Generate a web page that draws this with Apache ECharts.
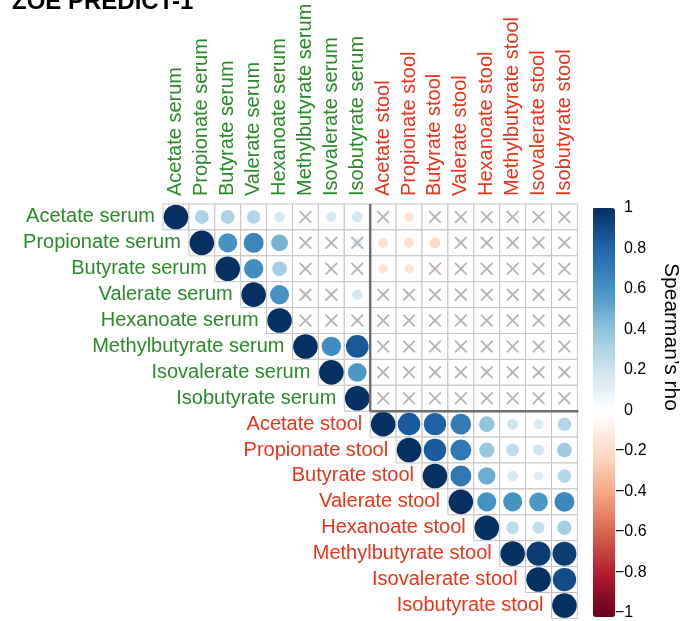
<!DOCTYPE html>
<html>
<head>
<meta charset="utf-8">
<script src="https://cdn.jsdelivr.net/npm/echarts@6.0.0/dist/echarts.min.js"></script>
<style>
  html, body { margin: 0; padding: 0; background: #fff; }
  #chart { width: 689px; height: 621px; }
</style>
</head>
<body>
<div id="chart"></div>
<script>
// variables, serum first then stool
var labels = [
    "Acetate serum", "Propionate serum", "Butyrate serum", "Valerate serum",
    "Hexanoate serum", "Methylbutyrate serum", "Isovalerate serum", "Isobutyrate serum",
    "Acetate stool", "Propionate stool", "Butyrate stool", "Valerate stool",
    "Hexanoate stool", "Methylbutyrate stool", "Isovalerate stool", "Isobutyrate stool"
];

// upper triangle of Spearman's rho, each row starts at the diagonal
var rho = [
    [1, 0.32, 0.32, 0.3, 0.18, 0.03, 0.17, 0.19, 0.02, -0.15, 0.02, 0.01, 0.01, 0.01, 0.01, 0.01],
    [1, 0.6, 0.66, 0.47, 0.03, 0.03, 0.14, -0.16, -0.17, -0.2, -0.1, 0.01, 0.01, 0.01, 0.01],
    [1, 0.62, 0.35, 0.02, 0.03, 0.03, -0.15, -0.15, -0.1, 0.01, 0.01, 0.01, 0.01, 0.01],
    [1, 0.6, 0.1, 0.02, 0.18, 0.02, -0.06, 0.01, 0.01, 0.01, 0.01, 0.01, 0.01],
    [1, 0.02, 0.02, 0.08, 0.01, 0.02, 0.02, -0.08, 0.01, 0.01, 0.01, 0.01],
    [1, 0.62, 0.85, 0.01, 0.01, 0.01, 0.01, 0.01, 0.01, 0.01, 0.01],
    [1, 0.58, 0.01, 0.01, 0.01, 0.01, 0.01, 0.01, 0.01, 0.01],
    [1, 0.01, 0.01, 0.01, 0.01, 0.01, 0.01, 0.01, 0.01],
    [1, 0.84, 0.82, 0.7, 0.4, 0.2, 0.16, 0.3],
    [1, 0.84, 0.72, 0.38, 0.26, 0.2, 0.36],
    [1, 0.72, 0.5, 0.18, 0.14, 0.3],
    [1, 0.6, 0.6, 0.58, 0.65],
    [1, 0.26, 0.24, 0.34],
    [1, 0.96, 0.95],
    [1, 0.9],
    [1]
];

// 1 = not significant (drawn with a cross)
var insig = [
    [0, 0, 0, 0, 0, 1, 0, 0, 1, 0, 1, 1, 1, 1, 1, 1],
    [0, 0, 0, 0, 1, 1, 1, 0, 0, 0, 1, 1, 1, 1, 1],
    [0, 0, 0, 1, 1, 1, 0, 0, 1, 1, 1, 1, 1, 1],
    [0, 0, 1, 1, 0, 1, 1, 1, 1, 1, 1, 1, 1],
    [0, 1, 1, 1, 1, 1, 1, 1, 1, 1, 1, 1],
    [0, 0, 0, 1, 1, 1, 1, 1, 1, 1, 1],
    [0, 0, 1, 1, 1, 1, 1, 1, 1, 1],
    [0, 1, 1, 1, 1, 1, 1, 1, 1],
    [0, 0, 0, 0, 0, 0, 0, 0],
    [0, 0, 0, 0, 0, 0, 0],
    [0, 0, 0, 0, 0, 0],
    [0, 0, 0, 0, 0],
    [0, 0, 0, 0],
    [0, 0, 0],
    [0, 0],
    [0]
];

var rdbu = ["#67001F", "#B2182B", "#D6604D", "#F4A582", "#FDDBC7", "#FFFFFF",
    "#D1E5F0", "#92C5DE", "#4393C3", "#2166AC", "#053061"];

var serumColor = "#2A8A2A";
var stoolColor = "#E8341C";
var font = "Liberation Sans, Arial, Helvetica, sans-serif";
var cell = 25.9;
var n = labels.length;

function labelColor(i) {
    return i < 8 ? serumColor : stoolColor;
}

var cellData = [];
var circleData = [];
var crossData = [];
var rowLabelData = [];
for (var i = 0; i < n; i++) {
    for (var k = 0; k < rho[i].length; k++) {
        var j = i + k;
        cellData.push([j, i]);
        circleData.push([j, i, rho[i][k]]);
        if (insig[i][k] == 1) crossData.push([j, i]);
    }
    rowLabelData.push({ value: [i, i], label: { color: labelColor(i) } });
}

var crossPath = "path://M0,1L1,0L5,4L9,0L10,1L6,5L10,9L9,10L5,6L1,10L0,9L4,5Z";

var chart = echarts.init(document.getElementById("chart"));
var option = {
    animation: false,
    backgroundColor: "#fff",
    graphic: [
        {
            type: "text", left: 12, top: -10, silent: true,
            style: { text: "ZOE PREDICT-1", font: "bold 24px " + font, fill: "#000" }
        },
        {
            type: "text", x: 671, y: 337, rotation: -Math.PI / 2, silent: true,
            style: {
                text: "Spearman\u2019s rho", font: "21px " + font, fill: "#000",
                align: "center", verticalAlign: "middle"
            }
        }
    ],
    grid: [
        { left: 163, top: 204, width: cell * n, height: cell * n },
        { left: 593, top: 208, width: 22, height: 409 }
    ],
    xAxis: [
        {
            type: "category", data: labels, position: "top", boundaryGap: true,
            axisLine: { show: false }, axisTick: { show: false }, splitLine: { show: false },
            axisLabel: {
                rotate: -90, margin: 8, fontSize: 20, fontFamily: font, interval: 0,
                color: function (v, idx) { return labelColor(idx); }
            }
        },
        { gridIndex: 1, type: "value", show: false, min: 0, max: 1 }
    ],
    yAxis: [
        { type: "category", data: labels, inverse: true, show: false },
        {
            gridIndex: 1, type: "value", min: -1, max: 1, interval: 0.2, position: "right",
            axisLine: { show: false }, splitLine: { show: false },
            axisTick: { show: true, length: 4, lineStyle: { color: "#000", width: 1 } },
            axisLabel: {
                margin: 0, fontSize: 16, fontFamily: font, color: "#000",
                formatter: function (v) {
                    var r = Math.round(v * 10) / 10;
                    if (r < 0) return "\u2212" + Math.abs(r);
                    return "  " + r;
                }
            }
        }
    ],
    visualMap: {
        type: "continuous", min: -1, max: 1, seriesIndex: 1, dimension: 2,
        calculable: false, hoverLink: false, text: null, padding: 0,
        left: 593, top: 208, itemWidth: 22, itemHeight: 409,
        inRange: { color: rdbu }
    },
    series: [
        {
            name: "cells", type: "scatter", symbol: "rect", symbolSize: [cell, cell],
            data: cellData, silent: true, z: 1,
            itemStyle: { color: "#fff", borderColor: "#C4C4C4", borderWidth: 1, opacity: 1 }
        },
        {
            name: "rho", type: "scatter", symbol: "circle", data: circleData, z: 2, silent: true,
            symbolSize: function (val) { return cell * 0.95 * Math.sqrt(Math.abs(val[2])); },
            itemStyle: { opacity: 1 }
        },
        {
            name: "ns", type: "scatter", symbol: crossPath, symbolSize: 13, data: crossData,
            z: 3, silent: true, itemStyle: { color: "#B5B5B5", opacity: 1 }
        },
        {
            name: "rowLabels", type: "scatter", symbol: "rect", symbolSize: [cell, cell],
            data: rowLabelData, z: 4, silent: true,
            itemStyle: { color: "rgba(0,0,0,0)", opacity: 1 },
            label: {
                show: true, position: "left", distance: 8, fontSize: 20, fontFamily: font,
                formatter: function (p) { return labels[p.dataIndex]; }
            }
        },
        {
            name: "blocks", type: "custom", data: [[8, 8]], z: 5, silent: true,
            renderItem: function (params, api) {
                var s = api.size([1, 1]);
                var a = api.coord([8, 0]);
                var b = api.coord([15, 8]);
                var x = a[0] - s[0] / 2;
                var top = a[1] - s[1] / 2;
                var y = b[1] - s[1] / 2;
                var right = b[0] + s[0] / 2 + 1;
                var st = { stroke: "#6E6E6E", lineWidth: 2.5 };
                return {
                    type: "group",
                    children: [
                        { type: "line", shape: { x1: x, y1: top, x2: x, y2: y }, style: st },
                        { type: "line", shape: { x1: x, y1: y, x2: right, y2: y }, style: st }
                    ]
                };
            }
        }
    ]
};
chart.setOption(option);
</script>
</body>
</html>
